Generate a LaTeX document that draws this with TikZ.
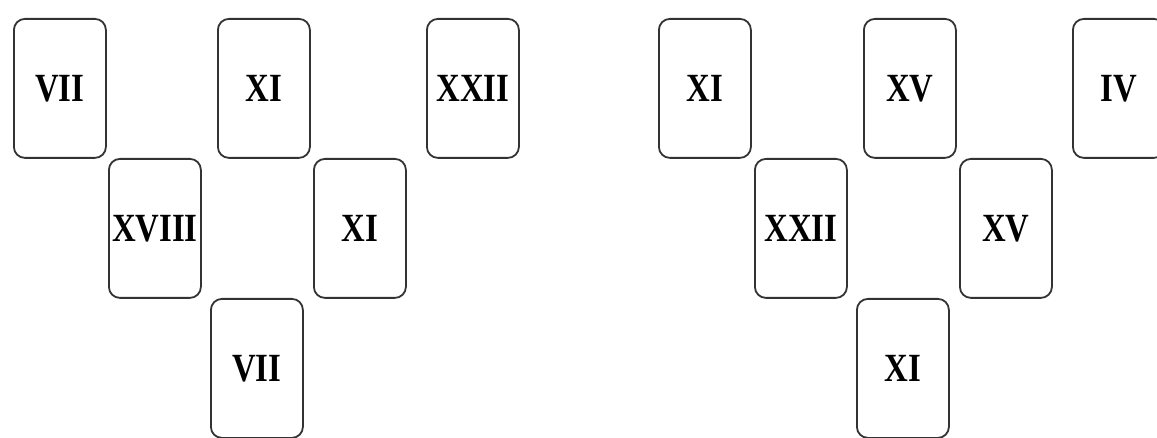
\documentclass[tikz,border=0pt]{standalone}
\usepackage{graphicx}
\usepackage{fontspec}
\setmainfont{Liberation Serif}
\newcommand\romtxt[1]{\scalebox{0.82}[1]{\bfseries #1}}
\begin{document}
\begin{tikzpicture}[x=1pt,y=-1pt,
  card/.style={draw=black!80, line width=1.8pt, rounded corners=11pt,
    minimum width=92pt, minimum height=139pt, inner sep=0pt,
    font=\fontsize{40}{40}\selectfont, anchor=north west}]
\useasboundingbox (0,0) rectangle (1157,438);
\fill[white] (0,0) rectangle (1157,438);
\clip (0,0) rectangle (1157,438);
% left group
\node[card] (l1) at (13,18) {\romtxt{VII}};
\node[card] (l2) at (217,18) {\romtxt{XI}};
\node[card] (l3) at (426,18) {\romtxt{XXII}};
\node[card] (l4) at (108,158) {\romtxt{XVIII}};
\node[card] (l5) at (313,158) {\romtxt{XI}};
\node[card] (l6) at (210,298) {\romtxt{VII}};
% right group
\node[card] (r1) at (658,18) {\romtxt{XI}};
\node[card] (r2) at (863,18) {\romtxt{XV}};
\node[card] (r3) at (1072,18) {\romtxt{IV}};
\node[card] (r4) at (754,158) {\romtxt{XXII}};
\node[card] (r5) at (959,158) {\romtxt{XV}};
\node[card] (r6) at (856,298) {\romtxt{XI}};
\end{tikzpicture}
\end{document}
